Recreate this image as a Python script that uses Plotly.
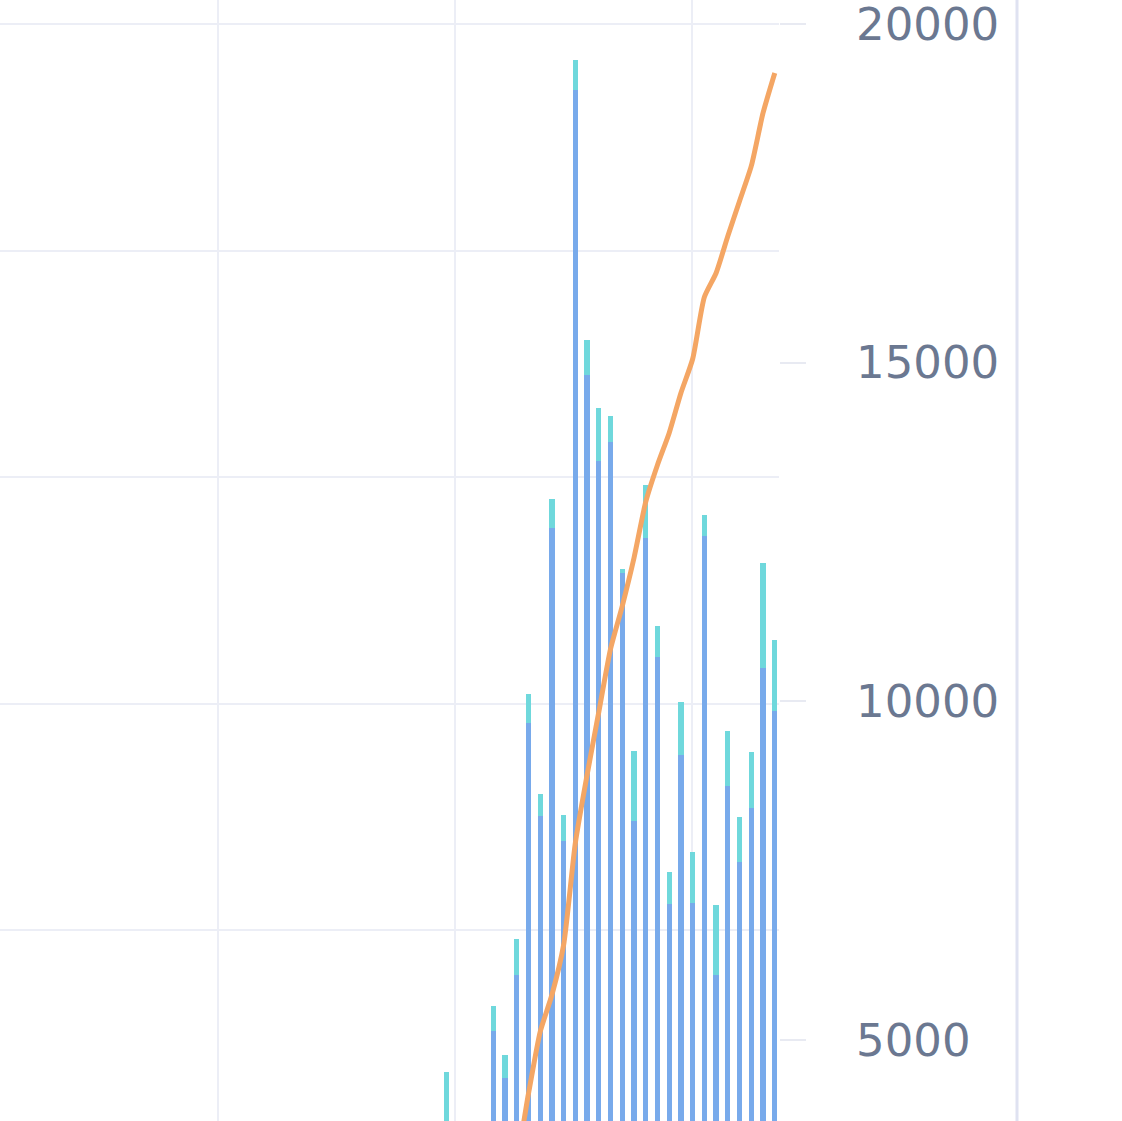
import plotly.graph_objects as go

# Day index of each bar / line point
days = list(range(0, 29))

# Stacked bar series (left axis units)
blue_vals = [40, 20, 10, 25, 222, 139, 320, 766, 601, 1110, 557, 1883, 1380, 1228, 1262,
             1030, 592, 1092, 882, 446, 709, 448, 1095, 320, 654, 520, 616, 863, 787]
cyan_vals = [109, 10, 5, 12, 43, 40, 65, 51, 39, 51, 46, 53, 62, 94, 46,
             7, 125, 94, 55, 56, 94, 90, 38, 124, 98, 80, 98, 185, 126]

# Line series (right axis)
line_vals = [2650, 2700, 2750, 2800, 2950, 3100, 3300, 4203, 5118, 5664, 6402, 7908, 8912,
             9842, 10772, 11407, 12116, 12943, 13489, 13962, 14552, 15054, 15969, 16324,
             16870, 17387, 17904, 18686, 19277]

right_ticks = [5000, 10000, 15000, 20000]

W, H = 1122, 1121
plot_right = 779

fig = go.Figure()
fig.add_trace(go.Bar(x=days, y=blue_vals, marker_color="#78aaeb", marker_line_width=0,
                     width=0.45, yaxis="y", name="A"))
fig.add_trace(go.Bar(x=days, y=cyan_vals, marker_color="#6fd8dc", marker_line_width=0,
                     width=0.45, yaxis="y", name="B"))
fig.add_trace(go.Scatter(x=days, y=line_vals, mode="lines", yaxis="y2",
                         line=dict(color="#f4a664", width=5, shape="spline", smoothing=0.6),
                         name="C"))

grid_c = "#eceef6"
fig.update_layout(
    width=W, height=H,
    margin=dict(l=0, r=W - plot_right, t=0, b=0, pad=0),
    paper_bgcolor="white", plot_bgcolor="white",
    barmode="stack", showlegend=False,
    xaxis=dict(range=[-38.04, 28.36], tick0=0.71, dtick=20.2, showticklabels=False,
               showgrid=True, gridcolor=grid_c, gridwidth=2, zeroline=False,
               showline=False, ticks="", automargin=False),
    yaxis=dict(range=[62.7, 2042.4], tick0=0, dtick=400, showticklabels=False,
               showgrid=True, gridcolor=grid_c, gridwidth=2, zeroline=False,
               showline=False, ticks="", automargin=False),
    yaxis2=dict(range=[3804, 20354], overlaying="y", side="right",
                tickvals=right_ticks, ticktext=[str(v) for v in right_ticks],
                showgrid=False, zeroline=False, showline=False,
                ticks="outside", ticklen=26, tickwidth=2, tickcolor="#e8eaf2",
                ticklabelstandoff=41, ticklabeloverflow="allow",
                tickfont=dict(family="DejaVu Sans", size=45, color="#6b7891"),
                automargin=False),
    shapes=[dict(type="line", xref="paper", yref="paper",
                 x0=1017 / plot_right, x1=1017 / plot_right, y0=0, y1=1,
                 line=dict(color="#dfe2f1", width=3))],
)

fig.write_html("out.html", config={"displayModeBar": False},
               post_script="document.body.style.margin='0px';")
